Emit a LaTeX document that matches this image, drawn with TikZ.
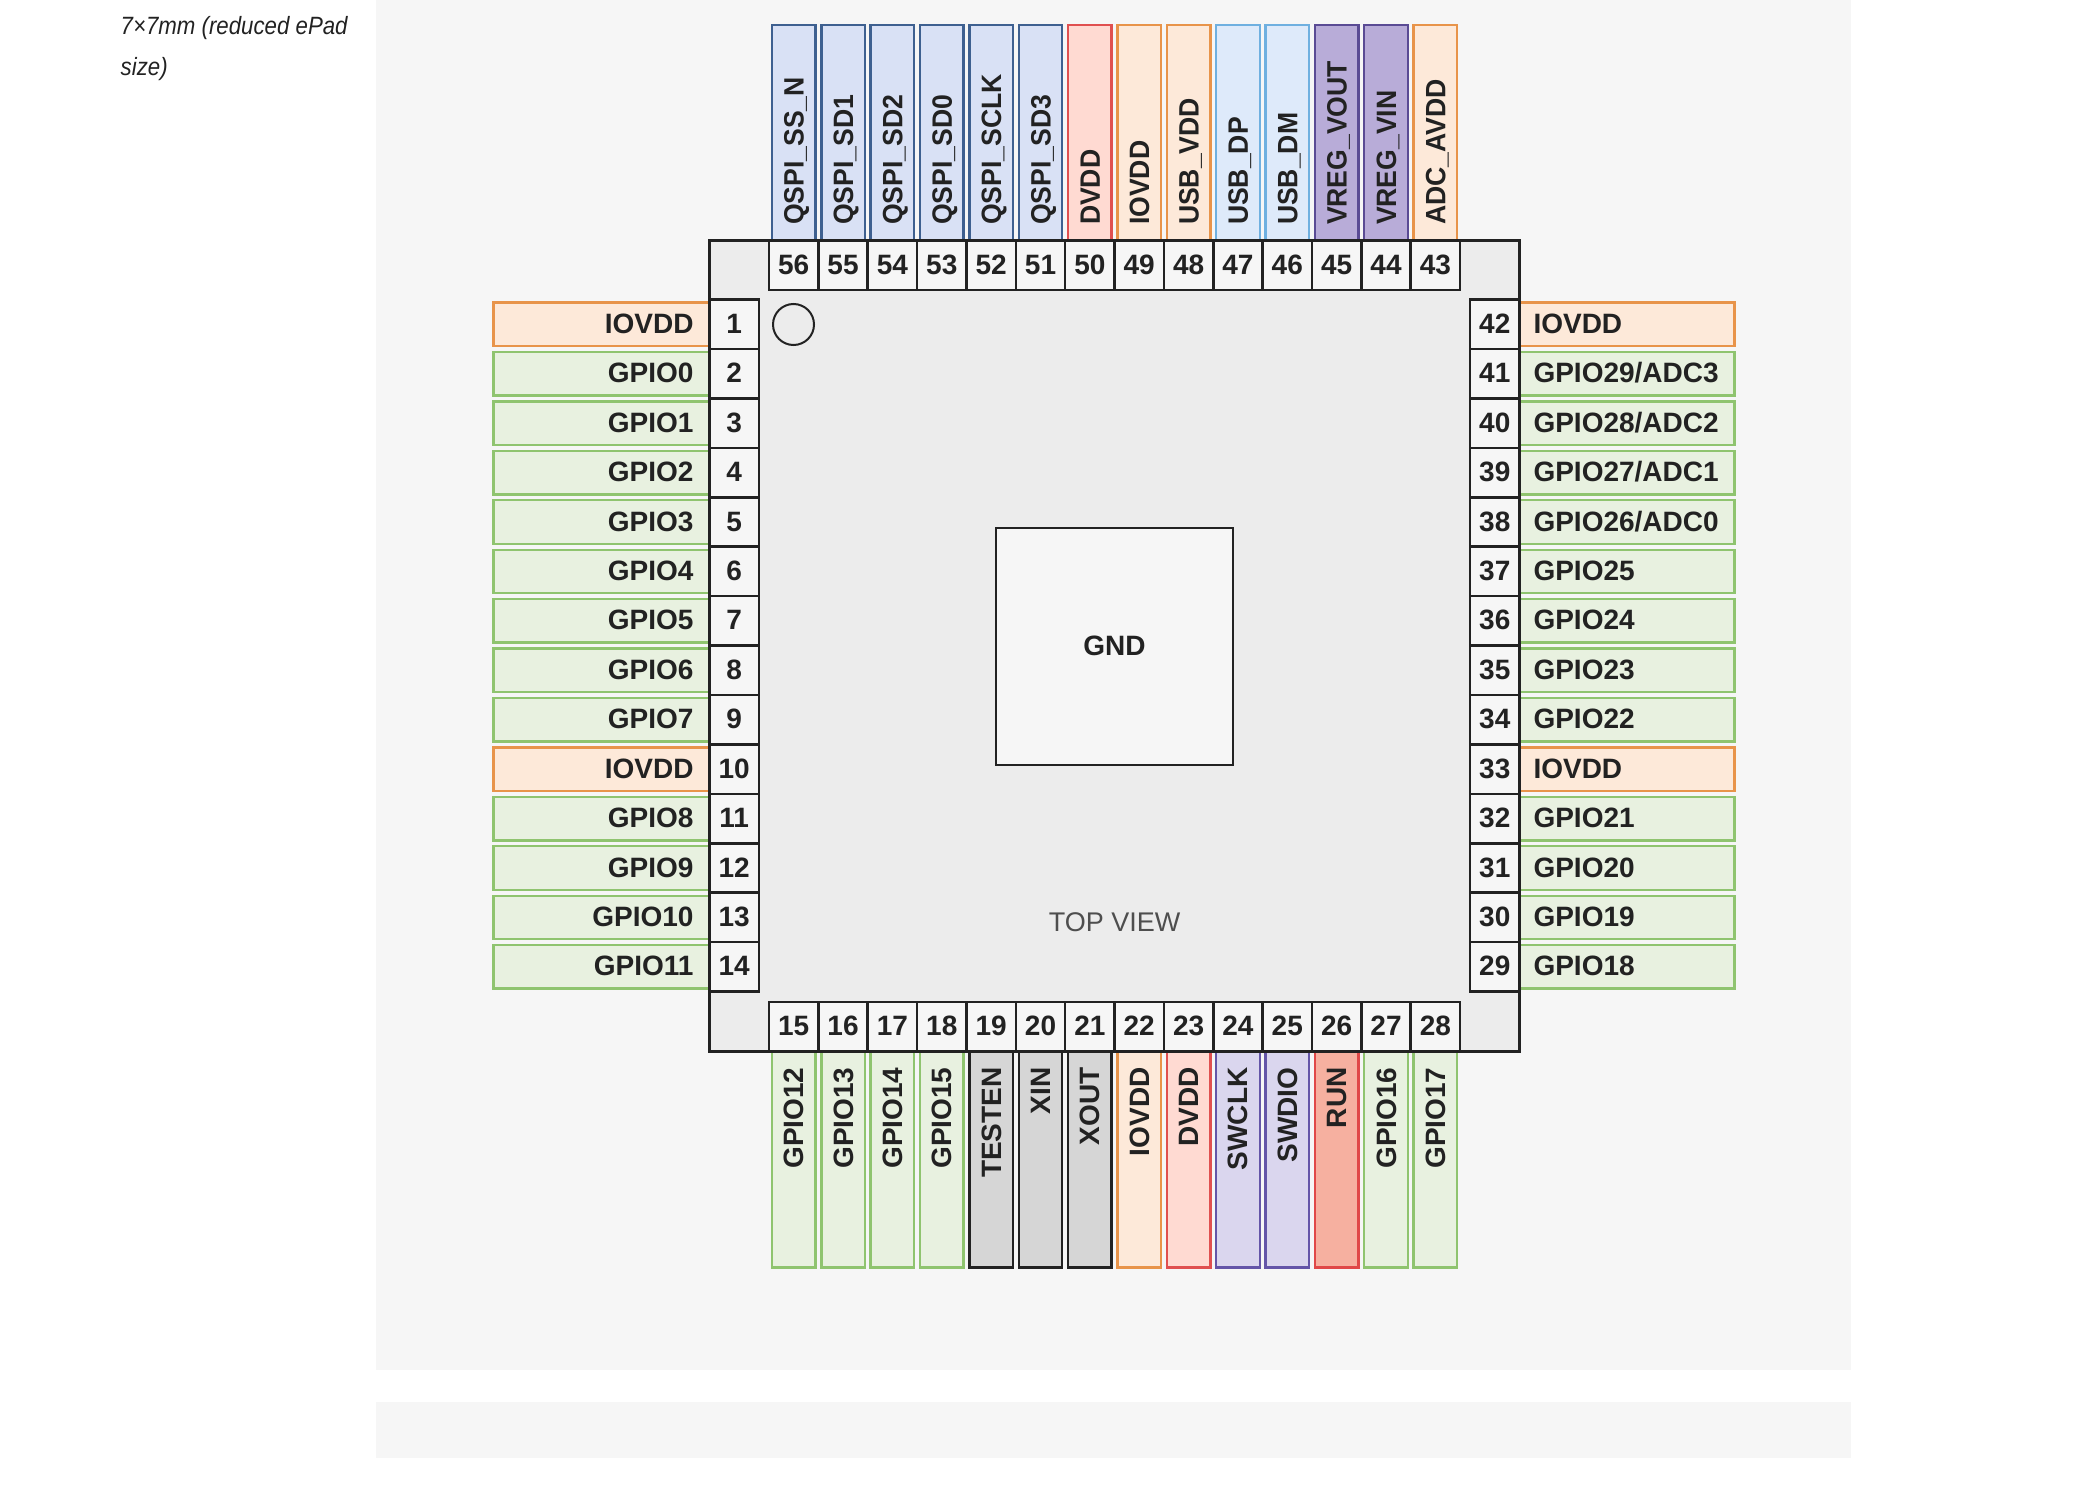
\documentclass[tikz,border=0pt]{standalone}
\usepackage{fontspec}
\setmainfont{Liberation Sans}
\newfontfamily\notefont[FakeStretch=0.89]{Liberation Sans}
\newfontfamily\topfont[FakeStretch=0.95]{Liberation Sans}
\definecolor{panelc}{HTML}{F6F6F6}
\definecolor{chipc}{HTML}{ECECEC}
\definecolor{inkc}{HTML}{222222}
\definecolor{gpf}{HTML}{E8F1E0}\definecolor{gps}{HTML}{8FC46F}
\definecolor{iof}{HTML}{FDE9D9}\definecolor{ios}{HTML}{E8944A}
\definecolor{qsf}{HTML}{D9E1F5}\definecolor{qss}{HTML}{3E6090}
\definecolor{dvf}{HTML}{FFDAD2}\definecolor{dvs}{HTML}{E05050}
\definecolor{usf}{HTML}{DEEAFA}\definecolor{uss}{HTML}{6FB0E0}
\definecolor{vrf}{HTML}{B8ACD8}\definecolor{vrs}{HTML}{5A4B94}
\definecolor{gyf}{HTML}{D6D6D6}\definecolor{gys}{HTML}{222222}
\definecolor{swf}{HTML}{DAD6EE}\definecolor{sws}{HTML}{6455A8}
\definecolor{rnf}{HTML}{F6B0A0}\definecolor{rns}{HTML}{E04848}
\tikzset{
  x=1pt,y=-1pt,
  ptgp/.style={draw=gps,fill=gpf},
  ptio/.style={draw=ios,fill=iof},
  ptqs/.style={draw=qss,fill=qsf},
  ptdv/.style={draw=dvs,fill=dvf},
  ptus/.style={draw=uss,fill=usf},
  ptvr/.style={draw=vrs,fill=vrf},
  ptgy/.style={draw=gys,fill=gyf},
  ptsw/.style={draw=sws,fill=swf},
  ptrn/.style={draw=rns,fill=rnf},
  lbl/.style={rectangle,line width=2.4pt,outer sep=0pt,inner ysep=0pt,
    minimum height=43.5pt,text height=20pt,text depth=0pt,text=inkc,
    font=\fontsize{28}{30}\selectfont\bfseries},
  lblleft/.style={lbl,anchor=east,inner xsep=16pt,text width=184pt,align=right,text height=19pt,text depth=1pt},
  lblright/.style={lbl,anchor=west,inner xsep=14pt,text width=187pt,align=left,text height=19pt,text depth=1pt},
  lbltop/.style={lbl,rotate=90,anchor=west,inner xsep=15pt,text width=185pt,align=left,
    font=\fontsize{28}{30}\topfont\bfseries},
  lblbot/.style={lbl,rotate=90,anchor=east,inner xsep=16pt,text width=184pt,align=right},
  cell/.style={rectangle,draw=inkc,fill=panelc,line width=2.6pt,outer sep=0pt,inner sep=0pt,
    minimum width=49.4pt,minimum height=49.4pt,text height=19pt,text depth=1pt,text=inkc,
    font=\fontsize{28}{30}\selectfont\bfseries},
}
\begin{document}
\begin{tikzpicture}
\useasboundingbox (0,0) rectangle (2090,1490);
\fill[panelc] (376,0) rectangle (1851,1370);
\fill[panelc] (376,1402) rectangle (1851,1458);
\node[anchor=base west,inner sep=0pt,font=\fontsize{25}{27}\notefont\itshape,text=inkc] (note1) at (120.5,35) {7×7mm (reduced ePad};
\node[anchor=base west,inner sep=0pt,font=\fontsize{25}{27}\notefont\itshape,text=inkc] (note2) at (120.5,76) {size)};
% pin labels
\foreach \s/\n/\t [count=\i from 0] in {ptio/1/IOVDD,ptgp/2/GPIO0,ptgp/3/GPIO1,ptgp/4/GPIO2,ptgp/5/GPIO3,ptgp/6/GPIO4,ptgp/7/GPIO5,ptgp/8/GPIO6,ptgp/9/GPIO7,ptio/10/IOVDD,ptgp/11/GPIO8,ptgp/12/GPIO9,ptgp/13/GPIO10,ptgp/14/GPIO11}
  \node[lblleft,\s] (lab\n) at (709.5,324.3+49.43*\i) {\t};
\foreach \s/\n/\t [count=\i from 0] in {ptio/42/IOVDD,ptgp/41/{GPIO29/ADC3},ptgp/40/{GPIO28/ADC2},ptgp/39/{GPIO27/ADC1},ptgp/38/{GPIO26/ADC0},ptgp/37/GPIO25,ptgp/36/GPIO24,ptgp/35/GPIO23,ptgp/34/GPIO22,ptio/33/IOVDD,ptgp/32/GPIO21,ptgp/31/GPIO20,ptgp/30/GPIO19,ptgp/29/GPIO18}
  \node[lblright,\s] (lab\n) at (1519.5,324.3+49.43*\i) {\t};
\foreach \s/\n/\t [count=\i from 0] in {ptqs/56/QSPI\_SS\_N,ptqs/55/QSPI\_SD1,ptqs/54/QSPI\_SD2,ptqs/53/QSPI\_SD0,ptqs/52/QSPI\_SCLK,ptqs/51/QSPI\_SD3,ptdv/50/DVDD,ptio/49/IOVDD,ptio/48/USB\_VDD,ptus/47/USB\_DP,ptus/46/USB\_DM,ptvr/45/VREG\_VOUT,ptvr/44/VREG\_VIN,ptio/43/ADC\_AVDD}
  \node[lbltop,\s] (lab\n) at (793.7+49.36*\i,240) {\t};
\foreach \s/\n/\t [count=\i from 0] in {ptgp/15/GPIO12,ptgp/16/GPIO13,ptgp/17/GPIO14,ptgp/18/GPIO15,ptgy/19/TESTEN,ptgy/20/XIN,ptgy/21/XOUT,ptio/22/IOVDD,ptdv/23/DVDD,ptsw/24/SWCLK,ptsw/25/SWDIO,ptrn/26/RUN,ptgp/27/GPIO16,ptgp/28/GPIO17}
  \node[lblbot,\s] (lab\n) at (793.7+49.36*\i,1051.5) {\t};
% package
\fill[chipc,draw=inkc,line width=2.6pt] (709.5,240.5) rectangle (1519.5,1051.5);
\foreach \n [count=\i from 0] in {1,...,14}
  \node[cell] (pin\n) at (734.2,324.3+49.43*\i) {\n};
\foreach \n [count=\i from 0] in {42,41,...,29}
  \node[cell] (pin\n) at (1494.8,324.3+49.43*\i) {\n};
\foreach \n [count=\i from 0] in {56,55,...,43}
  \node[cell] (pin\n) at (793.7+49.36*\i,265.2) {\n};
\foreach \n [count=\i from 0] in {15,...,28}
  \node[cell] (pin\n) at (793.7+49.36*\i,1026.8) {\n};
\node[circle,draw=inkc,line width=2pt,minimum size=41pt,inner sep=0pt] (dot) at (793.5,324.5) {};
\node[rectangle,draw=inkc,fill=panelc,line width=2.6pt,minimum size=237pt,inner sep=0pt,outer sep=0pt,text=inkc,
  text height=19pt,text depth=1pt,font=\fontsize{28}{30}\selectfont\bfseries] (gnd) at (1114.5,646.5) {GND};
\node[inner sep=0pt,text=inkc!80!white,font=\fontsize{27}{29}\selectfont] (topview) at (1114.5,922.5) {TOP VIEW};
\end{tikzpicture}
\end{document}
